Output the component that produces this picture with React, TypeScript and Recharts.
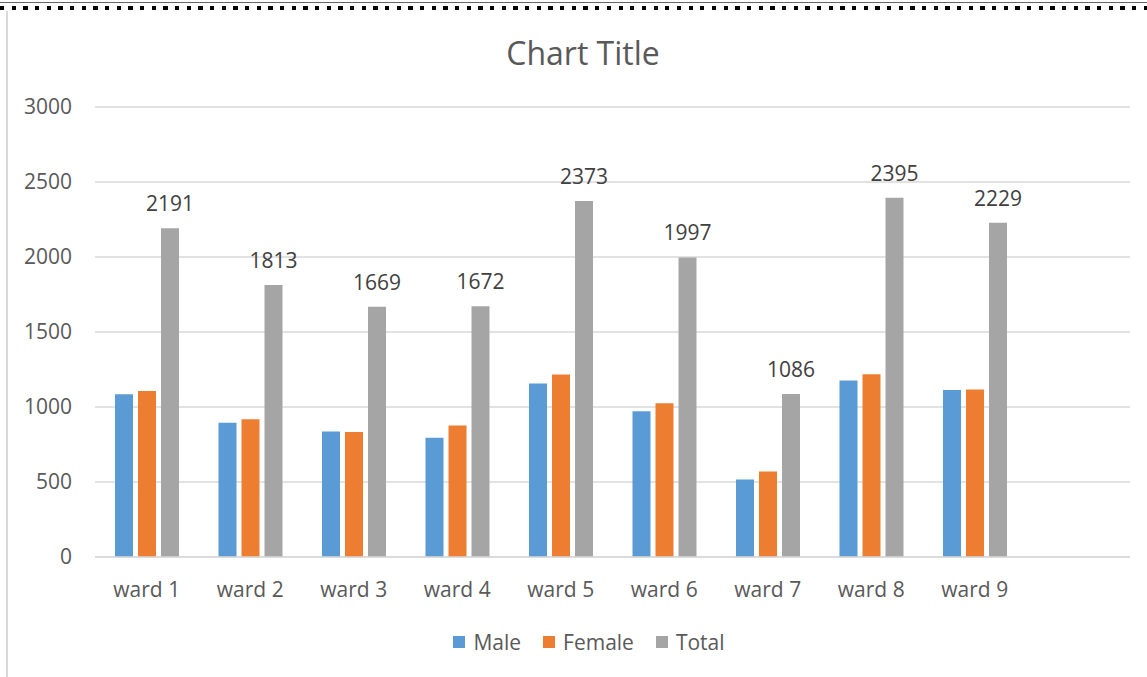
import React from 'react';
import {
  BarChart,
  Bar,
  XAxis,
  YAxis,
  CartesianGrid,
  Legend,
  LabelList,
} from 'recharts';

const wards = ['ward 1', 'ward 2', 'ward 3', 'ward 4', 'ward 5', 'ward 6', 'ward 7', 'ward 8', 'ward 9'];
const male = [1085, 895, 836, 795, 1157, 972, 516, 1177, 1113];
const female = [1106, 918, 833, 877, 1216, 1025, 570, 1218, 1116];
const total = [2191, 1813, 1669, 1672, 2373, 1997, 1086, 2395, 2229];
const yTicks = [0, 500, 1000, 1500, 2000, 2500, 3000];

const series = [
  { key: 'Male', color: '#5B9BD5' },
  { key: 'Female', color: '#ED7D31' },
  { key: 'Total', color: '#A5A5A5' },
];

const FONT = '"Open Sans", sans-serif';

// Excel leaves one empty category slot at the right end
const chartData = [
  ...wards.map((ward, i) => ({
    ward,
    Male: male[i],
    Female: female[i],
    Total: total[i],
  })),
  { ward: '' },
];

const LegendContent = () => (
  <div
    style={{
      display: 'flex',
      justifyContent: 'center',
      alignItems: 'center',
      height: 40,
      paddingLeft: 70,
      fontFamily: FONT,
      fontSize: 21,
      color: '#595959',
    }}
  >
    {series.map((s) => (
      <div key={s.key} style={{ display: 'flex', alignItems: 'center', marginRight: 22 }}>
        <span style={{ width: 12, height: 12, background: s.color, marginRight: 8 }} />
        <span>{s.key}</span>
      </div>
    ))}
  </div>
);

const App: React.FC = () => {
  return (
    <div style={{ position: 'absolute', left: 0, top: 0, width: 1147, height: 677, background: '#fff' }}>
      {/* screenshot frame bits */}
      <div style={{ position: 'absolute', left: 0, top: 2, width: 1147, height: 1, background: '#666' }} />
      <div
        style={{
          position: 'absolute',
          left: 0,
          top: 6,
          width: 1147,
          height: 4,
          background: 'repeating-linear-gradient(to right, #000 0 4.3px, transparent 4.3px 11.67px)',
        }}
      />
      <div style={{ position: 'absolute', left: 6, top: 11, width: 2, height: 666, background: '#d9d9d9' }} />

      <div
        style={{
          position: 'absolute',
          left: 0,
          top: 33,
          width: 1166,
          textAlign: 'center',
          fontFamily: FONT,
          fontSize: 32,
          lineHeight: '40px',
          color: '#595959',
        }}
      >
        Chart Title
      </div>

      <BarChart
        width={1147}
        height={677}
        data={chartData}
        margin={{ top: 107, right: 17, bottom: 15, left: 0 }}
        barSize={18}
        barGap={5}
        style={{ position: 'absolute', left: 0, top: 0 }}
      >
        <CartesianGrid vertical={false} stroke="#d9d9d9" strokeWidth={1.5} />
        <XAxis
          dataKey="ward"
          height={65}
          tickLine={false}
          tickSize={0}
          tickMargin={25}
          axisLine={{ stroke: '#d9d9d9', strokeWidth: 1.5 }}
          interval={0}
          tick={{ fill: '#595959', fontSize: 21, fontFamily: FONT }}
        />
        <YAxis
          width={95}
          domain={[0, 3000]}
          ticks={yTicks}
          axisLine={false}
          tickLine={false}
          tickSize={0}
          tickMargin={23}
          tick={{ fill: '#595959', fontSize: 21, fontFamily: FONT }}
        />
        <Legend verticalAlign="bottom" height={40} content={LegendContent} />
        {series.map((s) => (
          <Bar key={s.key} dataKey={s.key} fill={s.color} isAnimationActive={false}>
            {s.key === 'Total' && (
              <LabelList
                dataKey="Total"
                position="top"
                offset={17}
                fill="#404040"
                fontSize={21}
                fontFamily={FONT}
              />
            )}
          </Bar>
        ))}
      </BarChart>
    </div>
  );
};

export default App;
